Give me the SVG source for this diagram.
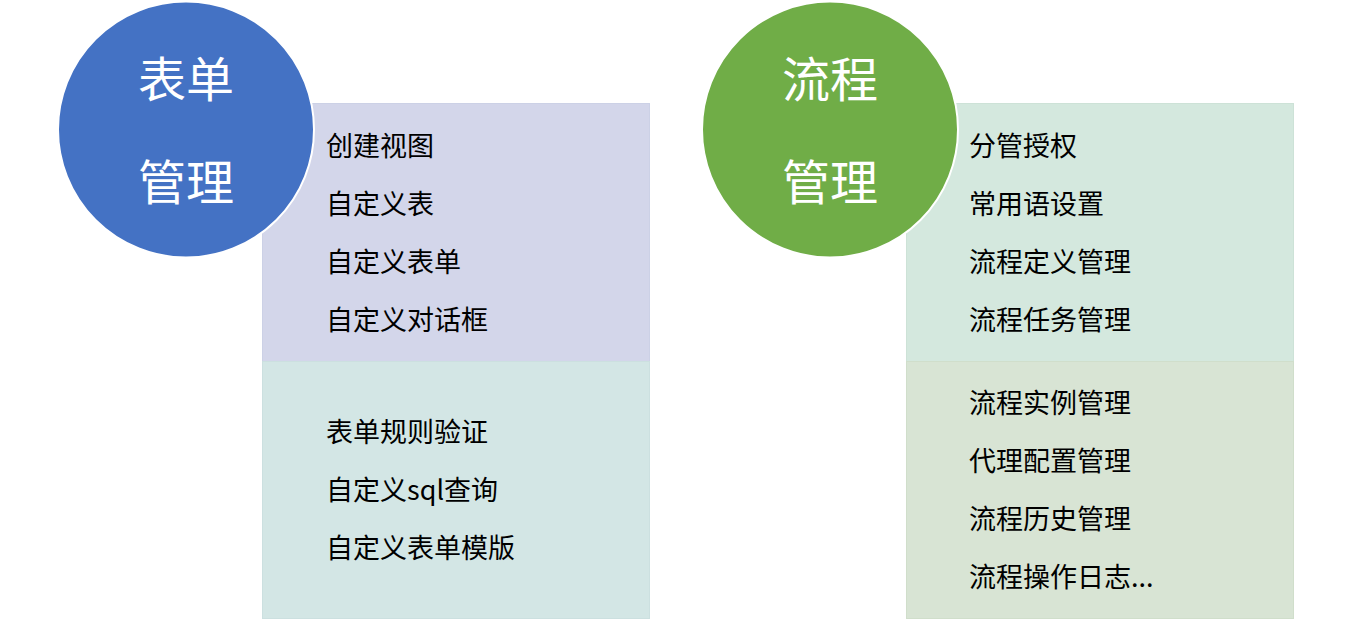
<svg xmlns="http://www.w3.org/2000/svg" width="1350" height="623" viewBox="0 0 1350 623">
<style>
.item{font-family:"Microsoft YaHei","Noto Sans CJK SC","Noto Sans",sans-serif;font-size:27px;fill:#000}
.title{font-family:"Microsoft YaHei","Noto Sans CJK SC","Noto Sans",sans-serif;font-size:48px;fill:#fff;text-anchor:middle}
.circ{stroke:#fff;stroke-width:2}
</style>
<rect width="1350" height="623" fill="#fff"/>
<g id="form-boxes">
<rect x="262.5" y="103.5" width="387" height="258" fill="#D3D6EA" stroke="#CCD1E6" stroke-width="1"/>
<rect x="262.5" y="361.5" width="387" height="257" fill="#D3E6E5" stroke="#CCE0E0" stroke-width="1"/>
</g>
<g id="flow-boxes">
<rect x="906.5" y="103.5" width="387" height="258" fill="#D4E8DE" stroke="#CDE2D7" stroke-width="1"/>
<rect x="906.5" y="361.5" width="387" height="257" fill="#D8E4D4" stroke="#D0DECB" stroke-width="1"/>
</g>
<g id="form-circle">
<circle class="circ" cx="186" cy="129.5" r="128" fill="#4472C4"/>
<text class="title" x="186" y="97">表单</text>
<text class="title" x="186" y="200">管理</text>
</g>
<g id="flow-circle">
<circle class="circ" cx="830" cy="129.5" r="128" fill="#70AD47"/>
<text class="title" x="830" y="97">流程</text>
<text class="title" x="830" y="200">管理</text>
</g>
<g id="form-items">
<text class="item" x="326" y="156">创建视图</text>
<text class="item" x="326" y="214">自定义表</text>
<text class="item" x="326" y="272">自定义表单</text>
<text class="item" x="326" y="330">自定义对话框</text>
<text class="item" x="326" y="442">表单规则验证</text>
<text class="item" x="326" y="500">自定义sql查询</text>
<text class="item" x="326" y="558">自定义表单模版</text>
</g>
<g id="flow-items">
<text class="item" x="969" y="156">分管授权</text>
<text class="item" x="969" y="214">常用语设置</text>
<text class="item" x="969" y="272">流程定义管理</text>
<text class="item" x="969" y="330">流程任务管理</text>
<text class="item" x="969" y="413">流程实例管理</text>
<text class="item" x="969" y="471">代理配置管理</text>
<text class="item" x="969" y="529">流程历史管理</text>
<text class="item" x="969" y="587">流程操作日志...</text>
</g>
<g id="connectors"></g>
</svg>
